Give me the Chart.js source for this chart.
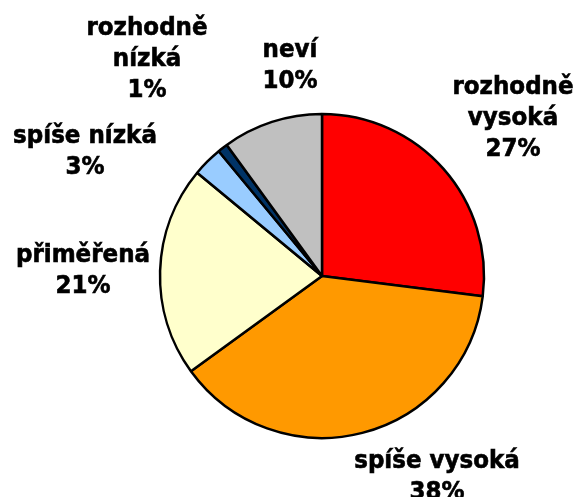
<!DOCTYPE html>
<html>
<head>
<meta charset="utf-8">
<script src="https://cdn.jsdelivr.net/npm/chart.js@4"></script>
<style>
    html, body { margin: 0; padding: 0; background: #ffffff; }
    #wrap { width: 576px; height: 497px; }
</style>
</head>
<body>
<div id="wrap"><canvas id="pieChart" width="576" height="497"></canvas></div>
<script>
var categories = ['rozhodně vysoká', 'spíše vysoká', 'přiměřená', 'spíše nízká', 'rozhodně nízká', 'neví'];
var shares = [27, 38, 21, 3, 1, 10];
var sliceColors = ['#ff0000', '#ff9900', '#ffffcc', '#99ccff', '#003366', '#c0c0c0'];

// label lines per slice (text wraps like the original)
var labelLines = [
    ['rozhodně', 'vysoká'],
    ['spíše vysoká'],
    ['přiměřená'],
    ['spíše nízká'],
    ['rozhodně', 'nízká'],
    ['neví']
];
// where each label block sits, relative to the pie centre (centre x, baseline of first line)
var labelOffsets = [[191, -182], [115, 192], [-239, -14], [-237, -133], [-175, -241], [-32, -219]];

var pieLabels = {
    id: 'pieLabels',
    afterDraw: function(chart) {
        var ctx = chart.ctx;
        var arc = chart.getDatasetMeta(0).data[0];
        var cx = arc.x, cy = arc.y;
        ctx.save();
        ctx.font = 'bold 23px "DejaVu Sans", Verdana, sans-serif';
        ctx.fillStyle = '#000000';
        ctx.strokeStyle = '#000000';
        ctx.lineWidth = 0.6; // a touch heavier, like Verdana bold
        ctx.textAlign = 'center';
        ctx.textBaseline = 'alphabetic';
        categories.forEach(function(cat, i) {
            var lines = labelLines[i].concat([shares[i] + '%']);
            var x = cx + labelOffsets[i][0];
            var y = cy + labelOffsets[i][1];
            lines.forEach(function(line, j) {
                ctx.save();
                ctx.translate(x, y + j * 31);
                ctx.scale(1, 1.05);
                ctx.fillText(line, 0, 0);
                ctx.strokeText(line, 0, 0);
                ctx.restore();
            });
        });
        ctx.restore();
    }
};

var canvas = document.getElementById('pieChart');

var chart = new Chart(canvas, {
    type: 'pie',
    data: {
        labels: categories,
        datasets: [{
            data: shares,
            backgroundColor: sliceColors,
            borderColor: '#000000',
            borderWidth: 2.5,
            radius: 162
        }]
    },
    options: {
        responsive: false,
        animation: false,
        layout: {
            padding: { left: 100, right: 32, top: 100, bottom: 45 }
        },
        plugins: {
            legend: { display: false },
            tooltip: { enabled: false }
        }
    },
    plugins: [pieLabels]
});
</script>
</body>
</html>
